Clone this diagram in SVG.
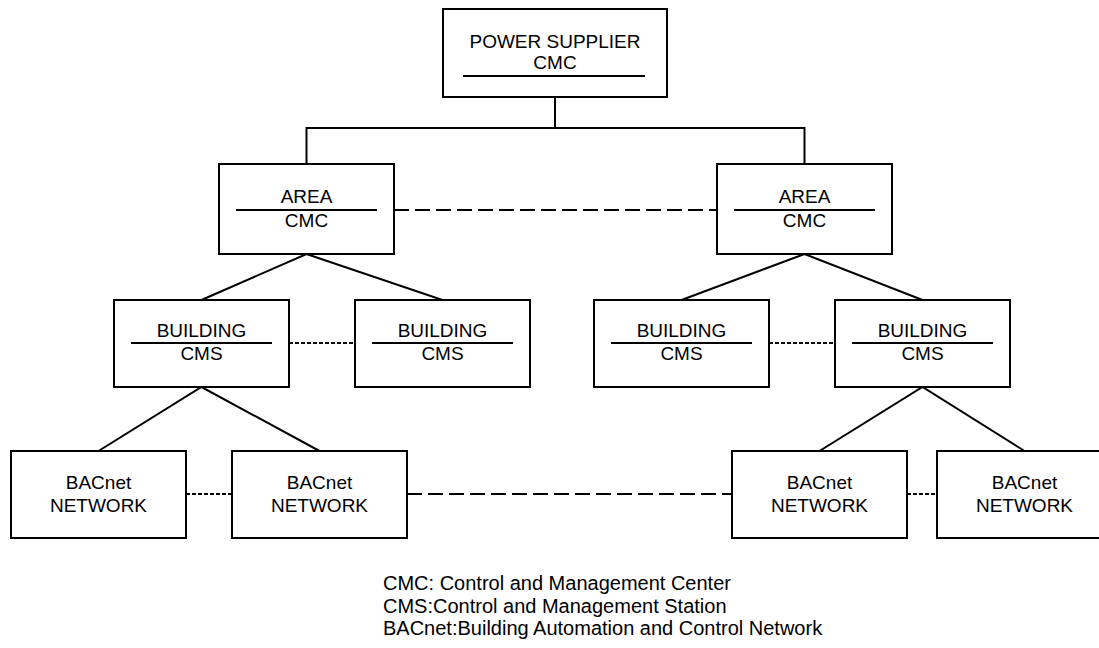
<svg xmlns="http://www.w3.org/2000/svg" width="1099" height="648" viewBox="0 0 1099 648">
<style>
.box{fill:#fff;stroke:#000;stroke-width:2}
.ln{fill:none;stroke:#000;stroke-width:2}
.dash{fill:none;stroke:#000;stroke-width:2;stroke-dasharray:15 6}
.dot{fill:none;stroke:#000;stroke-width:2;stroke-dasharray:4 2}
.t{font-family:"Liberation Sans",Arial,sans-serif;font-size:19px;fill:#000;text-anchor:middle}
.lg{font-family:"Liberation Sans",Arial,sans-serif;font-size:20px;fill:#000}
</style>
<rect width="1099" height="648" fill="#fff"/>
<g id="connectors">
<polyline class="ln" points="555,97 555,128"/>
<polyline class="ln" points="306.5,164 306.5,128 804.5,128 804.5,164"/>
<line class="dash" x1="394" y1="210" x2="717" y2="210"/>
<polyline class="ln" points="201.5,300 306.5,254 442.5,300"/>
<polyline class="ln" points="681.5,300 804.5,254 922.5,300"/>
<line class="dot" x1="289" y1="343" x2="355" y2="343"/>
<line class="dot" x1="769" y1="343" x2="835" y2="343"/>
<polyline class="ln" points="98.5,451 201.5,387 319.5,451"/>
<polyline class="ln" points="819.5,451 922.5,387 1024.5,451"/>
<line class="dot" x1="186" y1="494" x2="232" y2="494"/>
<line class="dash" x1="407" y1="494" x2="732" y2="494"/>
<line class="dot" x1="907" y1="494" x2="937" y2="494"/>
</g>
<g id="power-supplier">
<rect class="box" x="443" y="9" width="224" height="88"/>
<text class="t" x="555" y="48">POWER SUPPLIER</text>
<text class="t" x="555" y="69">CMC</text>
<line class="ln" x1="463" y1="76" x2="645" y2="76"/>
</g>
<g id="area-left">
<rect class="box" x="219" y="164" width="175" height="90"/>
<text class="t" x="306.5" y="203">AREA</text>
<line class="ln" x1="236" y1="210" x2="377" y2="210"/>
<text class="t" x="306.5" y="227">CMC</text>
</g>
<g id="area-right">
<rect class="box" x="717" y="164" width="175" height="90"/>
<text class="t" x="804.5" y="203">AREA</text>
<line class="ln" x1="734" y1="210" x2="875" y2="210"/>
<text class="t" x="804.5" y="227">CMC</text>
</g>
<g id="building-1">
<rect class="box" x="114" y="300" width="175" height="87"/>
<text class="t" x="201.5" y="337">BUILDING</text>
<line class="ln" x1="131" y1="343" x2="272" y2="343"/>
<text class="t" x="201.5" y="360">CMS</text>
</g>
<g id="building-2">
<rect class="box" x="355" y="300" width="175" height="87"/>
<text class="t" x="442.5" y="337">BUILDING</text>
<line class="ln" x1="372" y1="343" x2="513" y2="343"/>
<text class="t" x="442.5" y="360">CMS</text>
</g>
<g id="building-3">
<rect class="box" x="594" y="300" width="175" height="87"/>
<text class="t" x="681.5" y="337">BUILDING</text>
<line class="ln" x1="611" y1="343" x2="752" y2="343"/>
<text class="t" x="681.5" y="360">CMS</text>
</g>
<g id="building-4">
<rect class="box" x="835" y="300" width="175" height="87"/>
<text class="t" x="922.5" y="337">BUILDING</text>
<line class="ln" x1="852" y1="343" x2="993" y2="343"/>
<text class="t" x="922.5" y="360">CMS</text>
</g>
<g id="bacnet-1">
<rect class="box" x="11" y="451" width="175" height="87"/>
<text class="t" x="98.5" y="489">BACnet</text>
<text class="t" x="98.5" y="512">NETWORK</text>
</g>
<g id="bacnet-2">
<rect class="box" x="232" y="451" width="175" height="87"/>
<text class="t" x="319.5" y="489">BACnet</text>
<text class="t" x="319.5" y="512">NETWORK</text>
</g>
<g id="bacnet-3">
<rect class="box" x="732" y="451" width="175" height="87"/>
<text class="t" x="819.5" y="489">BACnet</text>
<text class="t" x="819.5" y="512">NETWORK</text>
</g>
<g id="bacnet-4">
<rect class="box" x="937" y="451" width="175" height="87"/>
<text class="t" x="1024.5" y="489">BACnet</text>
<text class="t" x="1024.5" y="512">NETWORK</text>
</g>
<g id="legend">
<text class="lg" x="383" y="590">CMC: Control and Management Center</text>
<text class="lg" x="383" y="612.5">CMS:Control and Management Station</text>
<text class="lg" x="383" y="635">BACnet:Building Automation and Control Network</text>
</g>
</svg>
